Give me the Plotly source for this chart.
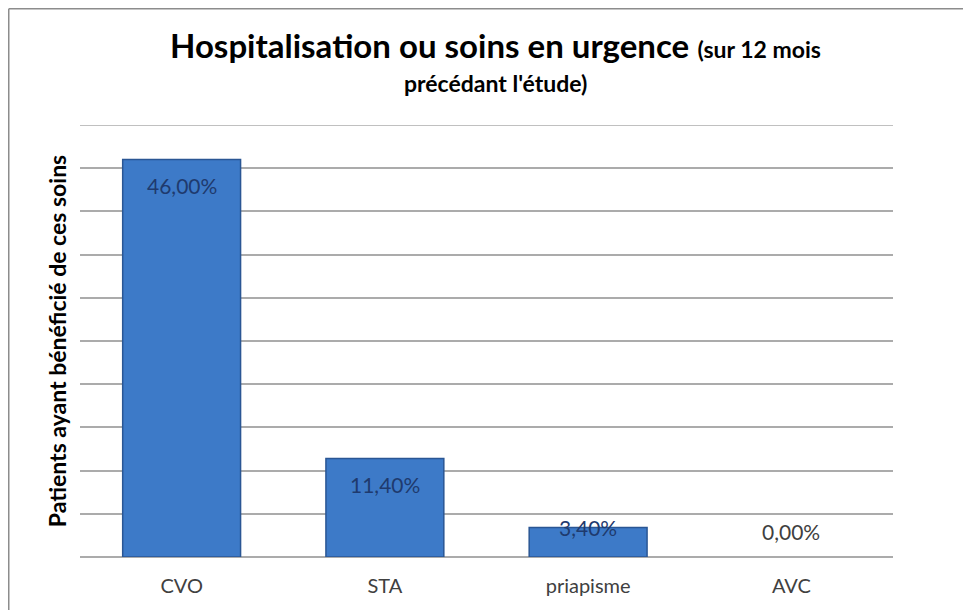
import plotly.graph_objects as go

categories = ["CVO", "STA", "priapisme", "AVC"]
values = [46.00, 11.40, 3.40, 0.00]
labels = ["46,00%", "11,40%", "3,40%", "0,00%"]

title_main = "Hospitalisation ou soins en urgence"
title_sub1 = "(sur 12 mois"
title_sub2 = "précédant l'étude)"
y_title = "Patients ayant bénéficié de ces soins"
y_max = 50
y_step = 5

FONT = "Lato, 'Open Sans', sans-serif"

# The page adds an 8px body margin; layout is expressed in figure pixels.
W, H = 971, 610
ML, MT, MR, MB = 72, 117, 86, 61
PW = W - ML - MR
PH = H - MT - MB


def px_to_paper_x(px):
    return (px - ML) / PW


def px_to_paper_y(py):
    return (H - MB - py) / PH


fig = go.Figure()
fig.add_trace(go.Bar(
    x=categories, y=values,
    marker=dict(color="#3D7AC8",
                line=dict(color="#2A5694", width=[1.5 if v > 0 else 0 for v in values])),
    width=0.58,
    hoverinfo="skip",
))

for cat, v, lab in zip(categories, values, labels):
    if v >= 5:
        shift, col = -26, "#1F3A6E"
    elif v > 0:
        shift, col = 0, "#1F3A6E"
    else:
        shift, col = 26, "#404040"
    fig.add_annotation(x=cat, y=v, xref="x", yref="y", text=lab, showarrow=False,
                       yanchor="middle", yshift=shift,
                       font=dict(family=FONT, size=21, color=col))

# Title lines
fig.add_annotation(
    x=px_to_paper_x(488), y=px_to_paper_y(59), xref="paper", yref="paper",
    xanchor="center", yanchor="bottom", showarrow=False,
    text=f"<b>{title_main}</b> <b><span style='font-size:23px'>{title_sub1}</span></b>",
    font=dict(family=FONT, size=33, color="#000000"),
)
fig.add_annotation(
    x=px_to_paper_x(487), y=px_to_paper_y(91), xref="paper", yref="paper",
    xanchor="center", yanchor="bottom", showarrow=False,
    text=f"<b>{title_sub2}</b>",
    font=dict(family=FONT, size=23, color="#000000"),
)

fig.update_layout(
    width=W, height=H,
    margin=dict(l=ML, r=MR, t=MT, b=MB),
    paper_bgcolor="white", plot_bgcolor="white",
    showlegend=False,
    bargap=0.42,
    font=dict(family=FONT),
    xaxis=dict(
        showgrid=False, showline=False, zeroline=False,
        tickfont=dict(size=20, color="#404040", family=FONT),
        ticklabelstandoff=15,
    ),
    yaxis=dict(
        range=[0, y_max], dtick=y_step,
        showticklabels=False,
        showgrid=True, gridcolor="#ABABAB", gridwidth=1.5,
        zeroline=True, zerolinecolor="#ABABAB", zerolinewidth=2,
        showline=False,
        title=dict(text=f"<b>{y_title}</b>", font=dict(size=23, color="#000000", family=FONT), standoff=5),
    ),
)

# Top gridline at the range maximum (Plotly skips the edge gridline)
fig.add_shape(type="line", xref="paper", yref="y", x0=0, x1=1, y0=y_max, y1=y_max,
              line=dict(color="#ABABAB", width=1.5), layer="below")

# Outer border (left and top visible)
x_left = px_to_paper_x(0.75)
y_top = px_to_paper_y(0.75)
fig.add_shape(type="line", xref="paper", yref="paper", x0=x_left, x1=x_left, y0=y_top, y1=-0.3,
              line=dict(color="#8C8C8C", width=1.5))
fig.add_shape(type="line", xref="paper", yref="paper", x0=x_left, x1=1.3, y0=y_top, y1=y_top,
              line=dict(color="#8C8C8C", width=1.5))

fig.write_html("out.html")
